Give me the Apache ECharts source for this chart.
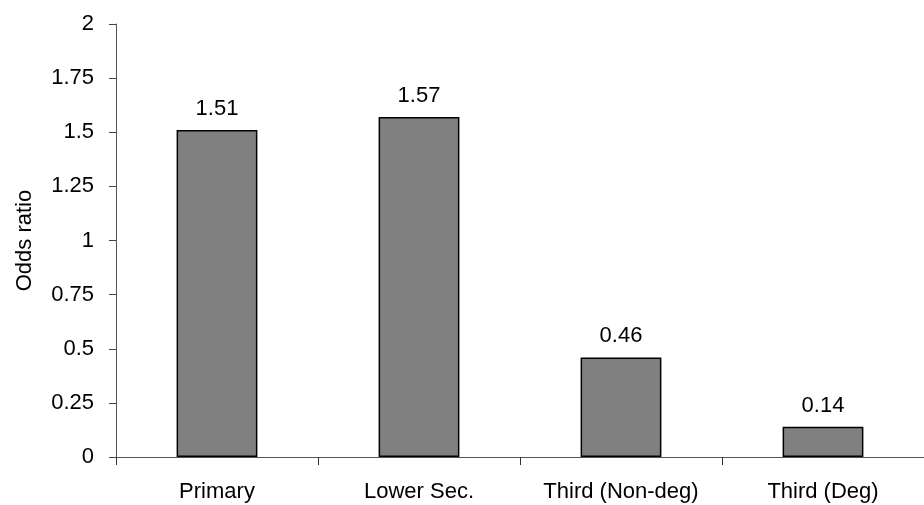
<!DOCTYPE html>
<html>
<head>
<meta charset="utf-8">
<script src="https://cdn.jsdelivr.net/npm/echarts@6/dist/echarts.min.js"></script>
<style>
html,body{margin:0;padding:0;background:#fff;}
#chart{width:924px;height:505px;}
</style>
</head>
<body>
<div id="chart"></div>
<script>
const categories = ["Primary", "Lower Sec.", "Third (Non-deg)", "Third (Deg)"];
const oddsRatios = [1.51, 1.57, 0.46, 0.14];
const yAxisName = "Odds ratio";

const FONT = "'Liberation Sans', Arial, sans-serif";
const chart = echarts.init(document.getElementById('chart'), null, {renderer: 'canvas'});
chart.setOption({
  animation: false,
  backgroundColor: '#ffffff',
  grid: {left: 116, top: 24, bottom: 48, right: -4, containLabel: false},
  xAxis: {
    type: 'category',
    data: categories,
    axisLine: {lineStyle: {color: '#555555', width: 1}},
    axisTick: {show: true, alignWithLabel: false, length: 8, lineStyle: {color: '#333333'}},
    axisLabel: {color: '#000', fontFamily: FONT, fontSize: 22, margin: 24, interval: 0}
  },
  yAxis: {
    type: 'value',
    min: 0, max: 2, interval: 0.25,
    name: yAxisName,
    nameLocation: 'middle',
    nameGap: 80,
    nameTextStyle: {color: '#000', fontFamily: FONT, fontSize: 22},
    axisLine: {show: true, lineStyle: {color: '#555555', width: 1}},
    axisTick: {show: true, length: 7, lineStyle: {color: '#444444'}},
    splitLine: {show: false},
    axisLabel: {color: '#000', fontFamily: FONT, fontSize: 22, margin: 22}
  },
  series: [{
    type: 'bar',
    data: oddsRatios,
    barWidth: '40%',
    itemStyle: {color: '#808080', borderColor: '#000', borderWidth: 1.5},
    label: {show: true, position: 'top', distance: 10, color: '#000', fontFamily: FONT, fontSize: 22,
      formatter: p => p.value.toFixed(2)}
  }]
});
</script>
</body>
</html>
